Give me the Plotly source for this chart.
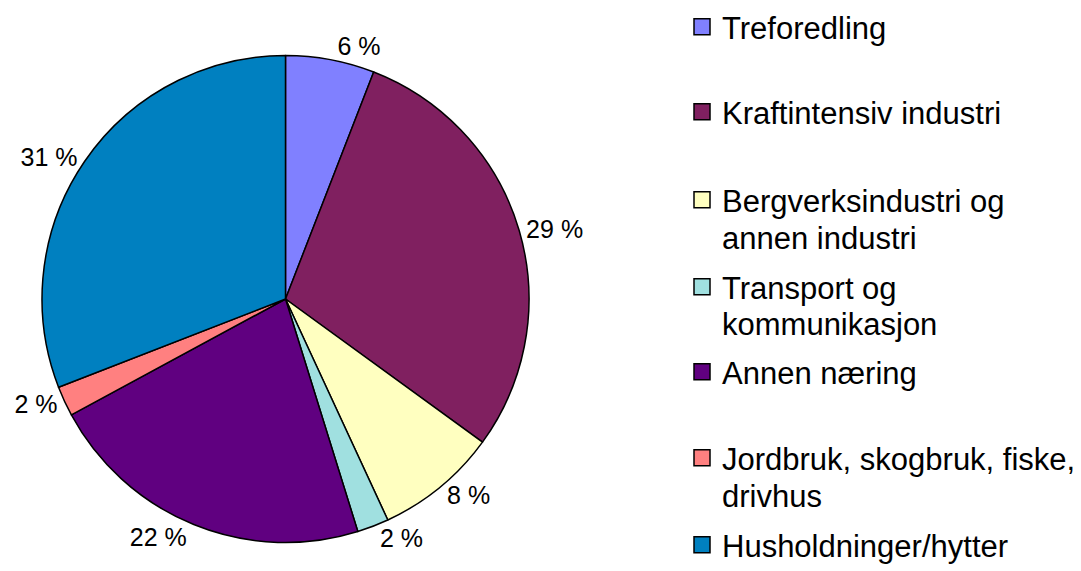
import plotly.graph_objects as go

categories = [
    "Treforedling",
    "Kraftintensiv industri",
    "Bergverksindustri og\nannen industri",
    "Transport og\nkommunikasjon",
    "Annen næring",
    "Jordbruk, skogbruk, fiske,\ndrivhus",
    "Husholdninger/hytter",
]
values = [5.9, 29.1, 8.1, 2.1, 21.9, 2.0, 30.9]
slice_colors = ["#8080FF", "#802060", "#FFFFC0", "#A0E0E0", "#600080", "#FF8080", "#0080C0"]

total = sum(values)
pct_text = [f"{round(v / total * 100)} %" for v in values]

# page offset (browser body margin) compensation
OFF = 8
W, H = 1081, 571
cx, cy, r = 285.5 - OFF, 299.0 - OFF, 243.5

FONT = "Liberation Sans, Arial, sans-serif"

fig = go.Figure()
fig.add_trace(
    go.Pie(
        labels=[c.replace("\n", " ") for c in categories],
        values=values,
        text=pct_text,
        textinfo="text",
        textposition="outside",
        textfont=dict(size=25, color="black", family=FONT),
        sort=False,
        direction="clockwise",
        rotation=0,
        marker=dict(colors=slice_colors, line=dict(color="black", width=1.5)),
        domain=dict(x=[(cx - r) / W, (cx + r) / W], y=[(H - cy - r) / H, (H - cy + r) / H]),
        hoverinfo="label+percent",
        showlegend=False,
    )
)

# legend line centres (screen px) for each legend text line
legend_line_y = [[27], [112], [200, 237], [287, 323], [372], [458, 495], [545]]
legend_left = 682 - OFF

layout_legends = {}
k = 0
for cat, col, ys in zip(categories, slice_colors, legend_line_y):
    lines = cat.split("\n")
    for j, (txt, ysc) in enumerate(zip(lines, ys)):
        k += 1
        lid = "legend" if k == 1 else f"legend{k}"
        first = j == 0
        fig.add_trace(
            go.Scatter(
                x=[None],
                y=[None],
                mode="markers",
                name=txt,
                legend=lid,
                showlegend=True,
                hoverinfo="skip",
                marker=dict(
                    symbol="square",
                    size=16,
                    color=col if first else "rgba(0,0,0,0)",
                    opacity=1 if first else 0,
                    line=dict(color="black" if first else "rgba(0,0,0,0)", width=1.5 if first else 0),
                ),
            )
        )
        layout_legends[lid] = dict(
            x=legend_left / W,
            xanchor="left",
            y=1 - (ysc - OFF) / H,
            yanchor="middle",
            font=dict(size=31, color="black", family=FONT),
            itemwidth=30,
            bgcolor="rgba(0,0,0,0)",
            borderwidth=0,
        )

fig.update_layout(
    width=W,
    height=H,
    margin=dict(l=0, r=0, t=0, b=0, autoexpand=False),
    paper_bgcolor="white",
    plot_bgcolor="white",
    font=dict(family=FONT, color="black"),
    xaxis=dict(visible=False),
    yaxis=dict(visible=False),
    showlegend=True,
    **layout_legends,
)

fig.write_html("out.html")
